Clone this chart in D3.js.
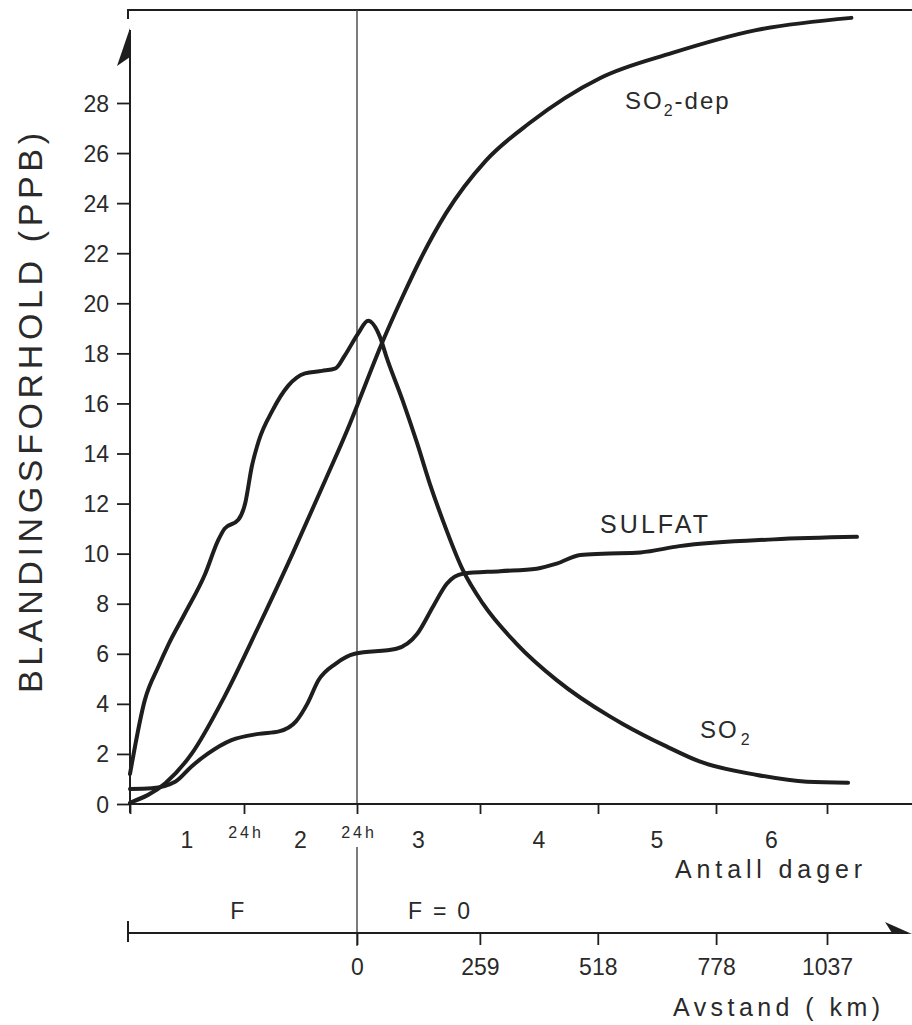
<!DOCTYPE html>
<html>
<head>
<meta charset="utf-8">
<script src="https://cdn.jsdelivr.net/npm/d3@7"></script>
<style>
  html, body { margin: 0; padding: 0; background: #fff; }
  svg { display: block; }
  text { font-family: "Liberation Sans", Arial, sans-serif; fill: #2a2a2a; }
</style>
</head>
<body>
<svg id="chart" width="912" height="1025"></svg>
<script>
// ---- data ----
const dayTicks = [0, 1, 2, 3, 4, 5, 6];
const dayLabels = ["1", "2", "3", "4", "5", "6"];
const hourLabelDays = [1, 2];
const hourLabel = "24h";
const kmTicks = [0, 259, 518, 778, 1037];
const yTicks = [0, 2, 4, 6, 8, 10, 12, 14, 16, 18, 20, 22, 24, 26, 28];

// [days, ppb]
const so2 = [
  [0.0, 1.2], [0.13, 4.15], [0.25, 5.5], [0.34, 6.4], [0.48, 7.6], [0.66, 9.2],
  [0.77, 10.5], [0.83, 11.0], [0.95, 11.35], [1.01, 12.0], [1.07, 13.5], [1.13, 14.5],
  [1.25, 15.7], [1.39, 16.7], [1.54, 17.2], [1.69, 17.3], [1.81, 17.4], [1.89, 17.9],
  [2.01, 18.8], [2.09, 19.3], [2.187, 18.65], [2.24, 17.85], [2.37, 16.13], [2.488, 14.42],
  [2.593, 12.78], [2.70, 11.3], [2.86, 9.35], [3.025, 8.0], [3.31, 6.4], [3.65, 4.95],
  [4.10, 3.5], [4.21, 3.2], [4.58, 2.3], [4.86, 1.7], [5.37, 1.16], [5.82, 0.89], [6.19, 0.85]
];
const so2dep = [
  [0.0, 0.05], [0.31, 0.83], [0.54, 2.0], [0.83, 4.3], [1.13, 7.1], [1.43, 10.0],
  [1.726, 13.0], [1.938, 15.2], [2.008, 16.0], [2.211, 18.5], [2.374, 20.3], [2.52, 21.8],
  [2.724, 23.6], [3.05, 25.7], [3.42, 27.2], [4.02, 29.0], [4.63, 30.0], [5.35, 30.9], [6.22, 31.4]
];
const sulfat = [
  [0.0, 0.6], [0.19, 0.63], [0.40, 0.9], [0.54, 1.5], [0.68, 2.0], [0.89, 2.55],
  [1.13, 2.8], [1.31, 2.9], [1.46, 3.3], [1.56, 4.0], [1.66, 4.95], [1.81, 5.6],
  [1.98, 6.0], [2.32, 6.2], [2.49, 6.8], [2.62, 7.9], [2.73, 8.8], [2.86, 9.2],
  [3.17, 9.3], [3.48, 9.4], [3.65, 9.6], [3.85, 9.95], [4.04, 10.0], [4.36, 10.05],
  [4.69, 10.3], [5.52, 10.57], [6.27, 10.67]
];

// ---- scales ----
const svg = d3.select("#chart");
const x = d3.scaleLinear()
  .domain([0, 1, 2, 3, 4, 5, 6, 7])
  .range([130, 244, 357, 480, 598, 716, 827, 938]);
const kmPerDay = 259.25;
const xKm = d3.scaleLinear()
  .domain(x.domain().map(d => (d - 2) * kmPerDay))
  .range(x.range());
const y = d3.scaleLinear().domain([0, 28]).range([804, 103]);

const ink = "#1e1e1e";

// ---- frame & reference lines ----
const yTop = y.invert(10);
svg.append("path")
  .attr("d", `M${x(0) - 2},${y(y.invert(19))} L${x(0) - 2},${y(yTop)} L912,${y(yTop)}`)
  .attr("fill", "none").attr("stroke", ink).attr("stroke-width", 2);

// vertical line at day 2 (0 km)
svg.append("line")
  .attr("x1", x(2)).attr("x2", x(2)).attr("y1", y(yTop)).attr("y2", y(0))
  .attr("stroke", "#444").attr("stroke-width", 1.4);
svg.append("line")
  .attr("x1", x(2)).attr("x2", x(2)).attr("y1", 847).attr("y2", 946)
  .attr("stroke", "#444").attr("stroke-width", 1.4);

// ---- y axis ----
const yAxis = d3.axisLeft(y).tickValues(yTicks).tickSize(13).tickPadding(8).tickSizeOuter(0);
const gy = svg.append("g").attr("transform", `translate(${x(0)},0)`).call(yAxis);
gy.select(".domain").remove();
gy.selectAll(".tick line").attr("stroke", ink).attr("stroke-width", 1.8);
gy.selectAll(".tick text")
  .style("font-size", "23px").attr("fill", "#2a2a2a").attr("dy", "0.35em");
svg.append("line")
  .attr("x1", x(0)).attr("x2", x(0)).attr("y1", y(-0.35)).attr("y2", 30)
  .attr("stroke", ink).attr("stroke-width", 2);
// arrow head (half barb)
svg.append("path")
  .attr("d", `M${x(0)},28 L${x(0) - 13},66 L${x(0)},57 Z`)
  .attr("fill", ink);

// y title
svg.append("text")
  .attr("transform", `translate(42,${(133 + 693) / 2}) rotate(-90)`)
  .attr("text-anchor", "middle")
  .attr("textLength", 560).attr("lengthAdjust", "spacing")
  .style("font-size", "34px")
  .text("BLANDINGSFORHOLD (PPB)");

// ---- day axis ----
svg.append("line")
  .attr("x1", x(0) - 2).attr("x2", 912).attr("y1", y(0)).attr("y2", y(0))
  .attr("stroke", ink).attr("stroke-width", 2);
const xAxis = d3.axisBottom(x).tickValues(dayTicks).tickSize(10).tickFormat("").tickSizeOuter(0);
const gx = svg.append("g").attr("transform", `translate(0,${y(0)})`).call(xAxis);
gx.select(".domain").remove();
gx.selectAll(".tick line").attr("stroke", ink).attr("stroke-width", 1.8);

svg.selectAll("text.daylab").data(dayLabels).enter().append("text")
  .attr("class", "daylab")
  .attr("x", (d, i) => x(i + 0.5)).attr("y", 848)
  .attr("text-anchor", "middle").style("font-size", "23px")
  .text(d => d);
svg.selectAll("text.hourlab").data(hourLabelDays).enter().append("text")
  .attr("class", "hourlab")
  .attr("x", d => x(d) + 2).attr("y", 838)
  .attr("text-anchor", "middle").style("font-size", "16px")
  .style("letter-spacing", "3px")
  .text(hourLabel);
svg.append("text")
  .attr("x", 675).attr("y", 878)
  .attr("textLength", 187).attr("lengthAdjust", "spacing")
  .style("font-size", "25px")
  .text("Antall dager");

// ---- km axis ----
const kmY = 933;
svg.append("line")
  .attr("x1", x(0) - 2).attr("x2", 908).attr("y1", kmY).attr("y2", kmY)
  .attr("stroke", ink).attr("stroke-width", 2);
svg.append("line")
  .attr("x1", x(0) - 2).attr("x2", x(0) - 2).attr("y1", kmY - 12).attr("y2", kmY + 9)
  .attr("stroke", ink).attr("stroke-width", 2);
svg.append("path")
  .attr("d", `M912,${kmY + 1} L885,${kmY - 11} L892,${kmY} Z`)
  .attr("fill", ink);
const kmAxis = d3.axisBottom(xKm).tickValues(kmTicks).tickSize(12).tickPadding(14)
  .tickSizeOuter(0).tickFormat(d => String(d));
const gk = svg.append("g").attr("transform", `translate(0,${kmY})`).call(kmAxis);
gk.select(".domain").remove();
gk.selectAll(".tick line").attr("stroke", ink).attr("stroke-width", 1.8);
gk.selectAll(".tick text").style("font-size", "23px").attr("fill", "#2a2a2a");
svg.append("text")
  .attr("x", 673).attr("y", 1016)
  .attr("textLength", 207).attr("lengthAdjust", "spacing")
  .style("font-size", "25px")
  .text("Avstand ( km)");

svg.append("text").attr("x", x(0.94)).attr("y", 919)
  .attr("text-anchor", "middle").style("font-size", "23px").text("F");
svg.append("text").attr("x", 408).attr("y", 919)
  .attr("textLength", 62).attr("lengthAdjust", "spacing")
  .style("font-size", "23px").text("F = 0");

// ---- curves ----
const line = d3.line()
  .x(d => x(d[0])).y(d => y(d[1]))
  .curve(d3.curveMonotoneX);
[so2, so2dep, sulfat].forEach(s => {
  svg.append("path").datum(s)
    .attr("d", line)
    .attr("fill", "none").attr("stroke", ink)
    .attr("stroke-width", 4).attr("stroke-linecap", "round").attr("stroke-linejoin", "round");
});

// ---- curve labels ----
const dep = svg.append("text").attr("x", 625).attr("y", 109).style("font-size", "24px")
  .style("letter-spacing", "2px");
dep.append("tspan").text("SO");
dep.append("tspan").attr("dy", 7).style("font-size", "16px").text("2");
dep.append("tspan").attr("dy", -7).text("-dep");

svg.append("text").attr("x", 600).attr("y", 533)
  .attr("textLength", 108).attr("lengthAdjust", "spacing")
  .style("font-size", "25px").text("SULFAT");

const s2 = svg.append("text").attr("x", 700).attr("y", 738).style("font-size", "24px")
  .style("letter-spacing", "2px");
s2.append("tspan").text("SO");
s2.append("tspan").attr("dy", 7).attr("dx", 2).style("font-size", "16px").text("2");
</script>
</body>
</html>
